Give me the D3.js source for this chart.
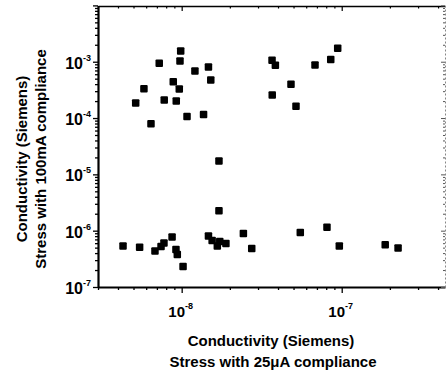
<!DOCTYPE html>
<html><head><meta charset="utf-8">
<script src="https://cdn.jsdelivr.net/npm/d3@7"></script>
<style>
body{margin:0;background:#fff;}
text{font-family:"Liberation Sans",Arial,sans-serif;font-weight:bold;fill:#000;}
</style></head>
<body><svg id="c" width="446" height="376"></svg>
<script>
// Data: conductivity (S) stressed with 25uA compliance (x) vs 100mA compliance (y)
const xValues = [9.86e-9,7.24e-9,9.76e-9,1.21e-8,1.47e-8,1.52e-8,8.86e-9,9.66e-9,5.81e-9,5.16e-9,7.78e-9,9.25e-9,1.08e-8,1.37e-8,6.43e-9,
  9.44e-8,8.54e-8,3.67e-8,3.85e-8,6.81e-8,4.82e-8,3.68e-8,5.18e-8,
  1.71e-8,1.71e-8,
  4.30e-9,5.46e-9,6.81e-9,7.43e-9,7.75e-9,8.71e-9,9.21e-9,9.39e-9,1.02e-8,1.47e-8,1.55e-8,1.67e-8,1.73e-8,1.89e-8,2.43e-8,2.74e-8,5.51e-8,8.09e-8,9.66e-8,1.87e-7,2.25e-7];
const yValues = [1.55e-3,9.37e-4,1.03e-3,6.84e-4,8.05e-4,4.73e-4,4.41e-4,3.27e-4,3.31e-4,1.85e-4,2.09e-4,2.00e-4,1.07e-4,1.16e-4,7.93e-5,
  1.73e-3,1.09e-3,1.06e-3,8.63e-4,8.73e-4,3.97e-4,2.56e-4,1.62e-4,
  1.72e-5,2.25e-6,
  5.33e-7,5.07e-7,4.34e-7,5.22e-7,6.03e-7,7.69e-7,4.61e-7,3.76e-7,2.32e-7,8.02e-7,6.67e-7,5.33e-7,6.40e-7,5.94e-7,8.95e-7,4.81e-7,9.33e-7,1.15e-6,5.33e-7,5.62e-7,4.91e-7];
const xTickLabels = [{v:1e-8, exp:"-8"},{v:1e-7, exp:"-7"}];
const yTickLabels = [{v:1e-3, exp:"-3"},{v:1e-4, exp:"-4"},{v:1e-5, exp:"-5"},{v:1e-6, exp:"-6"},{v:1e-7, exp:"-7"}];
const xDomain = [3e-9, 4.42e-7];
const yDomain = [1e-7, 1e-2];
const xTitle = ["Conductivity (Siemens)", "Stress with 25\u03bcA compliance"];
const yTitle = ["Conductivity (Siemens)", "Stress with 100mA compliance"];

const svg = d3.select("#c");
const L = 98, R = 445, T = 6, B = 287;
const x = d3.scaleLog().domain(xDomain).range([L, R]);
const y = d3.scaleLog().domain(yDomain).range([B, 5.4]);

const xMinor = x.ticks().filter(v => v >= xDomain[0] && v <= xDomain[1]);
const yMinor = y.ticks();
const isMajor = v => Math.abs(Math.log10(v) - Math.round(Math.log10(v))) < 1e-6;

// bottom axis
const gB = svg.append("g").attr("transform", `translate(0,${B})`)
  .call(d3.axisBottom(x).tickValues(xMinor).tickFormat("").tickSizeOuter(0));
gB.selectAll(".tick line").attr("y2", d => isMajor(d) ? 6 : 3).attr("stroke-width", 1.3);
gB.select(".domain").attr("stroke-width", 2.2);
// top axis
const gT = svg.append("g").attr("transform", `translate(0,${T})`)
  .call(d3.axisTop(x).tickValues(xMinor).tickFormat("").tickSizeOuter(0));
gT.selectAll(".tick line").attr("y2", d => isMajor(d) ? 5 : 2.5).attr("stroke-width", 1.2);
gT.select(".domain").attr("stroke-width", 1.6);
// left axis
const gL = svg.append("g").attr("transform", `translate(${L},0)`)
  .call(d3.axisLeft(y).tickValues(yMinor).tickFormat("").tickSizeOuter(0));
gL.selectAll(".tick line").attr("x2", d => isMajor(d) ? -5 : -3).attr("stroke-width", 1.3);
gL.select(".domain").attr("stroke-width", 2.2);
// right axis
const gR = svg.append("g").attr("transform", `translate(${R},0)`)
  .call(d3.axisRight(y).tickValues(yMinor).tickFormat("").tickSizeOuter(0));
gR.selectAll(".tick line").attr("x2", d => isMajor(d) ? -4 : -2).attr("stroke-width", 1).attr("stroke", "#555");
gR.select(".domain").attr("stroke-width", 1).attr("stroke", "#888").attr("stroke-dasharray", "2,2");

// tick labels
const xl = svg.append("g").selectAll("text").data(xTickLabels).join("text")
  .attr("x", d => x(d.v) - 1).attr("y", 317).attr("text-anchor", "middle").style("font-size", "15px");
xl.append("tspan").text("10");
xl.append("tspan").attr("dy", -8).style("font-size", "9px").text(d => d.exp);

const yl = svg.append("g").selectAll("text").data(yTickLabels).join("text")
  .attr("x", 91).attr("y", d => y(d.v) + 7).attr("text-anchor", "end").style("font-size", "16px");
yl.append("tspan").text("10");
yl.append("tspan").attr("dy", -8).style("font-size", "9px").text(d => d.exp);

// titles
svg.append("text").attr("x", 271).attr("y", 346).attr("text-anchor", "middle").style("font-size", "15px").text(xTitle[0]);
svg.append("text").attr("x", 273).attr("y", 367).attr("text-anchor", "middle").style("font-size", "15px").text(xTitle[1]);
svg.append("text").attr("transform", "translate(27,159) rotate(-90)").attr("text-anchor", "middle").style("font-size", "15px").text(yTitle[0]);
svg.append("text").attr("transform", "translate(46,159) rotate(-90)").attr("text-anchor", "middle").style("font-size", "15px").text(yTitle[1]);

// points
const s = 7.5;
svg.append("g").selectAll("rect").data(xValues.map((v, i) => [v, yValues[i]])).join("rect")
  .attr("x", d => x(d[0]) - s/2).attr("y", d => y(d[1]) - s/2)
  .attr("width", s).attr("height", s).attr("rx", 1).attr("fill", "#000");
</script></body></html>
